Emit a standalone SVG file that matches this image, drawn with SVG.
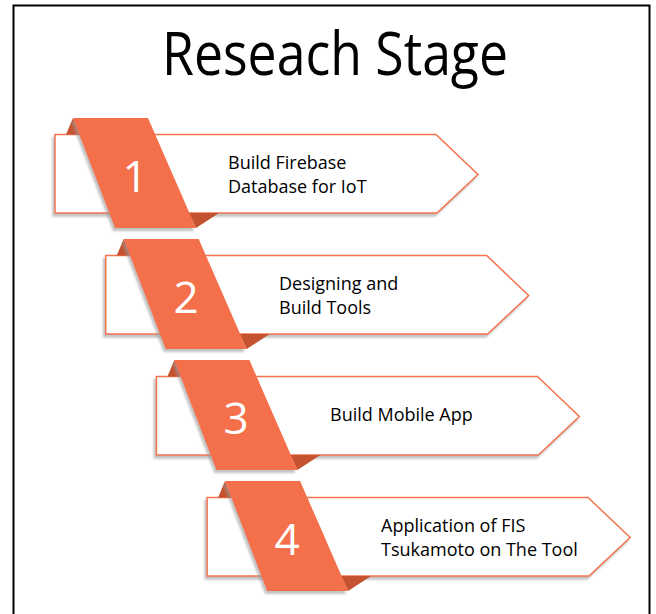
<svg xmlns="http://www.w3.org/2000/svg" width="656" height="614" viewBox="0 0 656 614">
<defs>
<filter id="sh" x="-10%" y="-10%" width="120%" height="130%">
<feDropShadow dx="-2" dy="3" stdDeviation="1.2" flood-color="#9a9a9a" flood-opacity="0.6"/>
</filter>
<style>
.box{fill:#fff;stroke:#f4734d;stroke-width:1.5;filter:url(#sh)}
.rib{fill:#f4704b;filter:url(#sh)}
.fold{fill:#c4522f}
.num{font-family:"Open Sans","Noto Sans",sans-serif;font-size:44px;fill:#fff;text-anchor:middle}
.lbl{font-family:"Open Sans","Noto Sans",sans-serif;font-size:18px;fill:#000}
.title{font-family:"Open Sans","Noto Sans",sans-serif;font-size:60px;fill:#000}
</style>
<g id="step">
<polygon class="box" points="55,134.5 436,134.5 478,174.5 437,213 55,213"/>
<polygon class="fold" points="73,118 66,134.5 80,134.5"/>
<polygon class="fold" points="189,213 219,213 196,228"/>
<polygon class="rib" points="73,118 148,118 196,228 115,228"/>
</g>
</defs>
<rect x="13.5" y="5.5" width="636" height="640" fill="#fff" stroke="#000" stroke-width="2"/>
<text id="title" class="title" x="162" y="75" textLength="346" lengthAdjust="spacingAndGlyphs">Reseach Stage</text>
<g id="node1">
<use href="#step"/>
<text class="num" x="135" y="192">1</text>
<text class="lbl" x="228" y="169">Build Firebase</text>
<text class="lbl" x="228" y="193">Database for IoT</text>
</g>
<g id="node2">
<use href="#step" transform="translate(50.7,121)"/>
<text class="num" x="186" y="313">2</text>
<text class="lbl" x="279" y="290">Designing and</text>
<text class="lbl" x="279" y="314">Build Tools</text>
</g>
<g id="node3">
<use href="#step" transform="translate(101.4,242)"/>
<text class="num" x="236" y="434">3</text>
<text class="lbl" x="330" y="421">Build Mobile App</text>
</g>
<g id="node4">
<use href="#step" transform="translate(152.1,363)"/>
<text class="num" x="287" y="555">4</text>
<text class="lbl" x="381" y="532">Application of FIS</text>
<text class="lbl" x="381" y="556">Tsukamoto on The Tool</text>
</g>
<g id="connectors"/>
</svg>
